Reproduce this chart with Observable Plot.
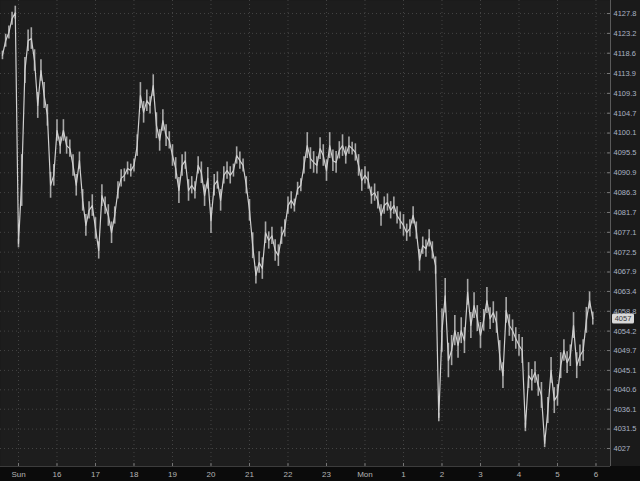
<!DOCTYPE html>
<html><head><meta charset="utf-8">
<script src="https://cdn.jsdelivr.net/npm/d3@7"></script>
<script src="https://cdn.jsdelivr.net/npm/@observablehq/plot@0.6"></script>
<style>html,body{margin:0;padding:0;background:#0b0b0b;overflow:hidden;}</style>
</head><body><div id="chart"></div>
<script>
// Session timing (hours; 24 = Monday 00:00)
const startHour = 14 + 35/60;
const stepMinutes = 5;

// Price series (5-minute samples)
const prices = [
  4118.1, 4121.5, 4123.4, 4126.6, 4128.0, 4074.5, 4089.1, 4114.6, 4121.5, 4122.0,
  4116.9, 4106.5, 4114.6, 4108.8, 4104.2, 4088.0, 4090.3, 4100.7, 4097.2, 4100.7,
  4097.2, 4096.5, 4092.6, 4088.0, 4093.7, 4084.5, 4078.7, 4082.2, 4083.3, 4078.0,
  4072.9, 4085.6, 4083.3, 4081.0, 4077.0, 4081.0, 4086.8, 4089.6, 4090.3, 4091.9,
  4091.4, 4092.6, 4097.2, 4108.8, 4104.9, 4107.6, 4106.5, 4111.1, 4101.8, 4098.4,
  4103.0, 4099.5, 4098.4, 4094.9, 4091.9, 4086.8, 4092.6, 4093.7, 4086.8, 4088.0,
  4086.8, 4092.6, 4090.9, 4085.6, 4089.6, 4079.8, 4088.0, 4089.1, 4084.5, 4090.3,
  4091.4, 4090.3, 4091.4, 4094.9, 4093.7, 4092.6, 4088.0, 4082.2, 4074.0, 4067.1,
  4070.1, 4068.7, 4077.0, 4075.2, 4076.3, 4072.9, 4071.7, 4076.3, 4078.0, 4083.3,
  4084.5, 4083.3, 4087.2, 4088.0, 4092.6, 4097.2, 4094.2, 4093.3, 4092.6, 4096.5,
  4094.9, 4091.4, 4097.2, 4093.7, 4093.3, 4096.1, 4097.2, 4094.9, 4097.2, 4096.5,
  4095.6, 4092.6, 4089.1, 4090.3, 4089.1, 4085.6, 4086.3, 4084.5, 4081.0, 4083.3,
  4084.0, 4082.2, 4083.3, 4081.0, 4079.8, 4078.7, 4077.0, 4078.0, 4081.0, 4077.5,
  4070.6, 4074.0, 4073.3, 4075.7, 4072.9, 4069.4, 4034.2, 4054.3, 4062.4, 4047.4,
  4049.7, 4054.3, 4050.9, 4054.3, 4052.0, 4063.2, 4055.5, 4060.1, 4057.1, 4053.2,
  4056.7, 4061.3, 4057.1, 4058.5, 4056.2, 4048.5, 4043.9, 4059.0, 4055.5, 4054.3,
  4052.5, 4050.9, 4049.7, 4031.9, 4043.9, 4042.8, 4044.6, 4041.6, 4039.3, 4028.2,
  4035.8, 4045.1, 4038.1, 4039.3, 4046.2, 4049.7, 4046.9, 4048.5, 4055.5, 4046.2,
  4048.5, 4049.7, 4056.7, 4061.3, 4057.1
];

// Local trading range (high - low, points) around each 5-minute sample
const spans = [
  2, 3, 3, 3, 3, 2, 12, 6, 5, 5,
  5, 6, 5, 6, 5, 6, 5, 5, 4, 5,
  4, 4, 5, 5, 4, 5, 5, 4, 5, 5,
  4, 5, 4, 5, 5, 4, 4, 4, 3, 3,
  3, 3, 5, 6, 5, 5, 4, 5, 6, 5,
  5, 5, 4, 5, 5, 6, 5, 4, 5, 4,
  4, 4, 5, 5, 5, 6, 5, 4, 5, 4,
  4, 4, 3, 4, 4, 3, 4, 5, 6, 4,
  5, 5, 5, 4, 4, 5, 5, 4, 4, 4,
  4, 3, 3, 3, 4, 6, 5, 5, 4, 5,
  5, 5, 6, 5, 5, 4, 5, 4, 4, 3,
  4, 5, 5, 4, 4, 4, 4, 4, 5, 4,
  4, 4, 4, 4, 4, 5, 4, 4, 4, 4,
  5, 4, 4, 4, 4, 4, 2, 10, 8, 8,
  7, 7, 6, 6, 6, 6, 6, 6, 6, 6,
  5, 6, 5, 5, 5, 7, 6, 6, 5, 5,
  5, 5, 6, 2, 6, 5, 5, 5, 6, 2,
  6, 6, 6, 5, 6, 5, 5, 5, 6, 6,
  5, 5, 6, 4, 3
];

// Axis ticks
const yTickValues = [4027, 4031.5, 4036.1, 4040.6, 4045.1, 4049.7, 4054.2, 4058.8, 4063.4, 4067.9,
  4072.5, 4077.1, 4081.7, 4086.3, 4090.9, 4095.5, 4100.1, 4104.7, 4109.3, 4113.9, 4118.6, 4123.2, 4127.8];
const yTickLabels = ["4027", "4031.5", "4036.1", "4040.6", "4045.1", "4049.7", "4054.2", "4058.8", "4063.4", "4067.9",
  "4072.5", "4077.1", "4081.7", "4086.3", "4090.9", "4095.5", "4100.1", "4104.7", "4109.3", "4113.9", "4118.6", "4123.2", "4127.8"];
const xTickHours = [15, 16, 17, 18, 19, 20, 21, 22, 23, 24, 25, 26, 27, 28, 29, 30];
const xTickLabels = ["Sun", "16", "17", "18", "19", "20", "21", "22", "23", "Mon", "1", "2", "3", "4", "5", "6"];

const xDomain = [14.5325, 30.377];
const yDomain = [4022.83, 4130.82];

const data = prices.map((p, i) => ({t: startHour + i * stepMinutes / 60, p, s: spans[i]}));
const last = prices[prices.length - 1];

const plot = Plot.plot({
  width: 640, height: 481,
  marginLeft: 0, marginRight: 30, marginTop: 0, marginBottom: 15,
  style: {background: "#1a1a1a", fontFamily: "'Liberation Sans', Arial, sans-serif"},
  x: {domain: xDomain, label: null},
  y: {domain: yDomain, label: null},
  marks: [
    Plot.frame({fill: "#1d1d1d", stroke: null}),
    Plot.gridY(yTickValues, {stroke: "#444", strokeOpacity: 1, strokeDasharray: "1,3"}),
    Plot.gridX(xTickHours, {stroke: "#444", strokeOpacity: 1, strokeDasharray: "1,3"}),
    Plot.ruleX(data, {x: "t", y1: d => d.p - d.s / 2, y2: d => d.p + d.s / 2, stroke: "#a8a8a8", strokeWidth: 1.6}),
    Plot.line(data, {x: "t", y: "p", stroke: "#cfcfcf", strokeWidth: 1.2}),
    Plot.ruleX([xDomain[1]], {stroke: "#5a5a5a"}),
    Plot.ruleY([yDomain[0]], {stroke: "#3c3c3c"}),
    Plot.ruleY(yTickValues, {x1: xDomain[1] - 0.08, x2: xDomain[1], stroke: "#777"}),
    Plot.ruleX(xTickHours, {y1: yDomain[0], y2: yDomain[0] + 0.7, stroke: "#777"}),
    Plot.axisY(yTickValues, {anchor: "right", tickSize: 0, tickPadding: 3, label: null,
      tickFormat: d => yTickLabels[yTickValues.indexOf(d)], fill: "#a9b3c4", fontSize: 7.5}),
    Plot.axisX(xTickHours, {anchor: "bottom", tickSize: 0, tickPadding: 5, label: null,
      tickFormat: d => xTickLabels[xTickHours.indexOf(d)], fill: "#b4b4b4", fontSize: 8})
  ]
});

const svg = d3.select(plot);
svg.insert("rect", ":first-child")
  .attr("x", 0).attr("y", 466).attr("width", 640).attr("height", 15).attr("fill", "#0b0b0b");
const ly = plot.scale("y").apply(last);
const g = svg.append("g");
g.append("rect").attr("x", 612).attr("y", ly - 4.5).attr("width", 22).attr("height", 10)
  .attr("rx", 1.5).attr("fill", "#d9d9d9");
g.append("text").attr("x", 623).attr("y", ly + 0.5).attr("dy", "0.35em").attr("text-anchor", "middle")
  .attr("font-size", 7.5).attr("fill", "#3a3a3a").text(last.toFixed(0));

document.getElementById("chart").appendChild(plot);
</script>
</body></html>
